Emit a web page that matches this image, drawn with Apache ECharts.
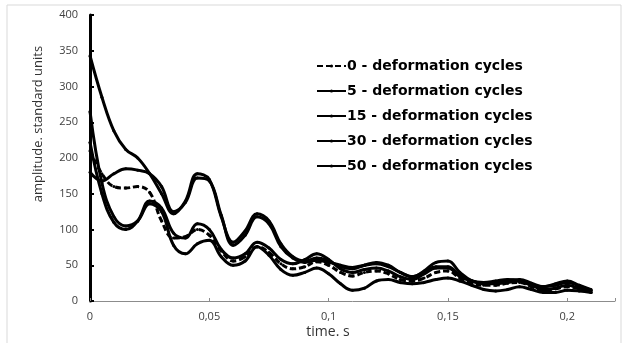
<!DOCTYPE html>
<html>
<head>
<meta charset="utf-8">
<script src="https://cdn.jsdelivr.net/npm/echarts@6/dist/echarts.min.js"></script>
<style>
  html, body { margin: 0; padding: 0; background: #fff; }
  #chart { width: 628px; height: 343px; }
</style>
</head>
<body>
<div id="chart"></div>
<script>
// time, s (step 0.005)
const timeS = []
for (let i = 0; i <= 42; i++) timeS.push(+(i * 0.005).toFixed(3))

const seriesNames = [
  '0 - deformation cycles',
  '5 - deformation cycles',
  '15 - deformation cycles',
  '30 - deformation cycles',
  '50 - deformation cycles'
]

// amplitude, standard units
const cycles0 = [210, 178, 160, 158, 160, 152, 112, 88, 90, 100, 92, 70, 56, 62, 76, 68, 52, 45, 48, 55, 50, 40, 35, 40, 42, 38, 30, 28, 32, 40, 42, 32, 25, 22, 22, 25, 26, 20, 15, 17, 20, 17, 12]
const cycles5 = [180, 168, 178, 185, 183, 178, 160, 125, 138, 172, 168, 120, 78, 92, 118, 108, 76, 60, 54, 57, 54, 50, 47, 50, 52, 48, 40, 34, 40, 48, 48, 36, 28, 26, 28, 30, 28, 22, 20, 24, 28, 22, 16]
const cycles15 = [265, 165, 118, 105, 112, 136, 125, 78, 66, 80, 85, 62, 50, 56, 76, 64, 44, 36, 40, 46, 38, 24, 15, 18, 28, 30, 26, 24, 26, 30, 32, 28, 22, 16, 14, 16, 20, 16, 12, 12, 15, 14, 12]
const cycles30 = [222, 150, 110, 100, 112, 140, 130, 95, 88, 108, 100, 72, 60, 66, 82, 74, 58, 52, 58, 66, 58, 45, 40, 44, 46, 42, 34, 30, 38, 46, 46, 34, 28, 24, 24, 26, 28, 22, 16, 18, 22, 18, 14]
const cycles50 = [343, 285, 238, 212, 200, 178, 150, 122, 140, 178, 170, 118, 82, 98, 122, 112, 80, 62, 56, 60, 56, 48, 45, 50, 54, 50, 40, 34, 42, 54, 56, 40, 28, 25, 26, 28, 30, 25, 20, 22, 26, 21, 15]

const allData = [cycles0, cycles5, cycles15, cycles30, cycles50]
const dashed = [true, false, false, false, false]

const chart = echarts.init(document.getElementById('chart'))

const fmtX = (v) => {
  const r = Math.round(v * 100)
  if (r % 5 !== 0) return ''
  return String(+v.toFixed(2)).replace('.', ',')
}

const option = {
  animation: false,
  backgroundColor: '#fff',
  textStyle: { fontFamily: 'Open Sans, Liberation Sans, sans-serif' },
  graphic: [
    {
      type: 'rect',
      shape: { x: 7, y: 5, width: 614, height: 340 },
      style: { fill: 'none', stroke: '#d9d9d9', lineWidth: 1 },
      silent: true
    },
    {
      type: 'text',
      x: 38,
      y: 124,
      rotation: Math.PI / 2,
      style: {
        text: 'amplitude. standard units',
        fill: '#333',
        font: '13px "Open Sans", sans-serif',
        align: 'center',
        verticalAlign: 'middle'
      }
    },
    {
      type: 'text',
      x: 328,
      y: 332,
      style: {
        text: 'time. s',
        fill: '#333',
        font: '14px "Open Sans", sans-serif',
        align: 'center',
        verticalAlign: 'middle'
      }
    }
  ],
  legend: {
    orient: 'vertical',
    left: 311,
    top: 52,
    itemGap: 7,
    itemWidth: 29,
    itemHeight: 4,
    data: seriesNames,
    textStyle: {
      color: '#000',
      fontWeight: 'bold',
      fontSize: 14,
      lineHeight: 18,
      fontFamily: 'DejaVu Sans, sans-serif',
      padding: [0, 0, 0, -4]
    }
  },
  grid: { left: 90, right: 13, top: 15, bottom: 42 },
  xAxis: {
    type: 'value',
    min: 0,
    max: 0.22,
    interval: 0.05,
    axisLine: { lineStyle: { color: '#8c8c8c', width: 1 } },
    axisTick: { inside: true, length: 3, lineStyle: { color: '#8c8c8c' } },
    splitLine: { show: false },
    axisLabel: { color: '#404040', fontSize: 11, margin: 10, formatter: fmtX }
  },
  yAxis: {
    type: 'value',
    min: 0,
    max: 400,
    interval: 50,
    axisLine: { show: true, lineStyle: { color: '#000', width: 3 } },
    axisTick: { show: true, inside: true, length: 4, lineStyle: { color: '#000', width: 2 } },
    splitLine: { show: false },
    axisLabel: { color: '#404040', fontSize: 11, margin: 12 }
  },
  series: allData.map((d, i) => ({
    name: seriesNames[i],
    type: 'line',
    data: d.map((v, j) => [timeS[j], v]),
    smooth: 0.4,
    symbol: 'circle',
    symbolSize: 3,
    showSymbol: true,
    color: '#000',
    lineStyle: { color: '#000', width: 3, type: dashed[i] ? [6, 3] : 'solid' },
    itemStyle: { color: '#000' }
  }))
}

chart.setOption(option)
</script>
</body>
</html>
